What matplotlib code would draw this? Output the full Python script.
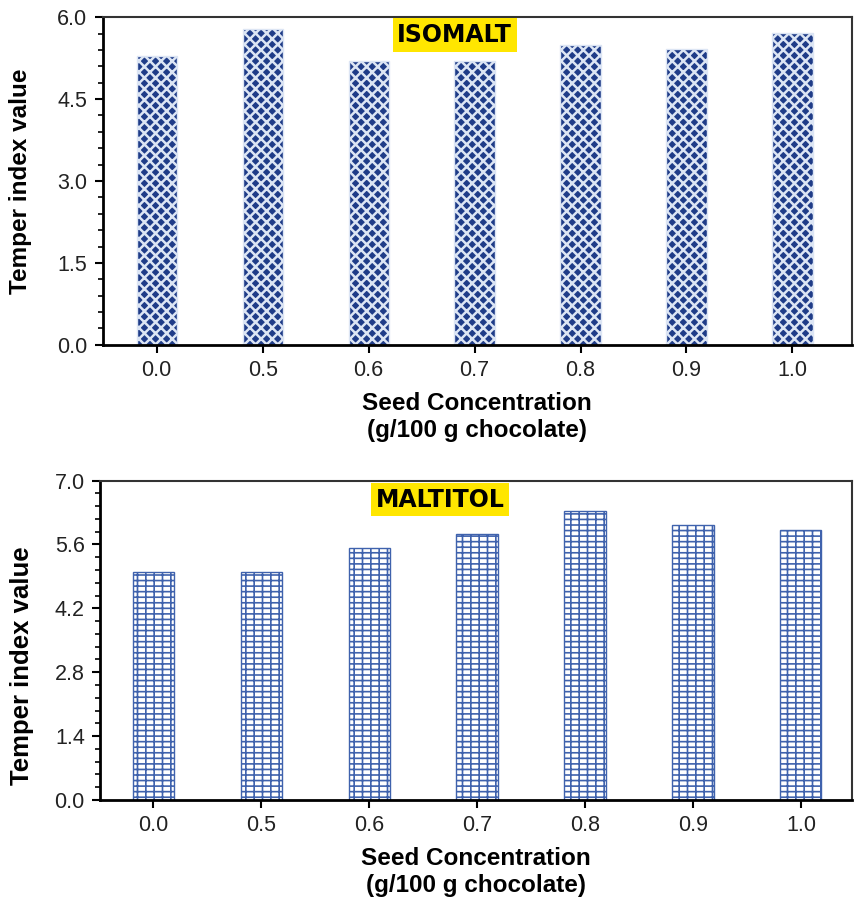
import matplotlib
matplotlib.use("Agg")
import matplotlib.pyplot as plt
from matplotlib.ticker import MultipleLocator

plt.rcParams['font.family'] = ['Liberation Sans', 'DejaVu Sans']

# Data
seed_conc = ["0.0", "0.5", "0.6", "0.7", "0.8", "0.9", "1.0"]
isomalt_ti = [5.29, 5.79, 5.19, 5.19, 5.49, 5.41, 5.71]
maltitol_ti = [5.0, 5.0, 5.52, 5.83, 6.34, 6.03, 5.92]

fig = plt.figure(figsize=(8.56, 9.05), dpi=100)
ax1 = fig.add_axes([0.120, 0.619, 0.875, 0.362])
ax2 = fig.add_axes([0.117, 0.116, 0.878, 0.353])

x = list(range(len(seed_conc)))


def style_axis(ax, ymax, major, minor, xlim, ylab_size, ylab_x, ylab_y):
    ax.set_ylim(0, ymax)
    ax.set_xlim(*xlim)
    ax.yaxis.set_major_locator(MultipleLocator(major))
    ax.yaxis.set_minor_locator(MultipleLocator(minor))
    ax.set_xticks(x)
    ax.set_xticklabels(seed_conc)
    ax.tick_params(axis='both', which='major', direction='out', length=6, width=1.5,
                   labelsize=15.5, pad=5, labelcolor='#222222')
    ax.tick_params(axis='y', which='minor', direction='out', length=3.5, width=1.2)
    ax.tick_params(axis='x', which='minor', length=0)
    for side in ['left', 'bottom']:
        ax.spines[side].set_linewidth(2.0)
    for side in ['top', 'right']:
        ax.spines[side].set_linewidth(1.5)
        ax.spines[side].set_color('#333333')
    ax.set_ylabel("Temper index value", fontsize=ylab_size, fontweight='bold')
    ax.yaxis.set_label_coords(ylab_x, ylab_y)
    ax.set_xlabel("Seed Concentration\n(g/100 g chocolate)", fontsize=17.5,
                  fontweight='bold', labelpad=8, linespacing=1.2)
    ax.yaxis.set_major_formatter(plt.FormatStrFormatter('%.1f'))


# Isomalt: navy diamonds on light background
bars1 = ax1.bar(x, isomalt_ti, width=0.38, color='#1f3c88', edgecolor='#dce5f4',
                hatch='xxx', linewidth=1.0)
for b in bars1:
    if hasattr(b, 'set_hatch_linewidth'):
        b.set_hatch_linewidth(1.8)
style_axis(ax1, 6.0, 1.5, 0.3, (-0.51, 6.56), 17.5, -0.094, 0.5)
ax1.text(0.47, 0.945, "ISOMALT", transform=ax1.transAxes, ha='center', va='center',
         fontsize=17, fontweight='heavy', family='DejaVu Sans',
         bbox=dict(boxstyle='square,pad=0.2', facecolor='#ffe600', edgecolor='none'))

# Maltitol: brick pattern
bars2 = ax2.bar(x, maltitol_ti, width=0.38, color='#ffffff', edgecolor='#3f62ad',
                hatch='---||', linewidth=1.0)
for b in bars2:
    if hasattr(b, 'set_hatch_linewidth'):
        b.set_hatch_linewidth(1.2)
style_axis(ax2, 7.0, 1.4, 0.28, (-0.49, 6.47), 18.5, -0.088, 0.42)
ax2.text(0.452, 0.94, "MALTITOL", transform=ax2.transAxes, ha='center', va='center',
         fontsize=17, fontweight='heavy', family='DejaVu Sans',
         bbox=dict(boxstyle='square,pad=0.2', facecolor='#ffe600', edgecolor='none'))

fig.savefig("out.png", dpi=100)
